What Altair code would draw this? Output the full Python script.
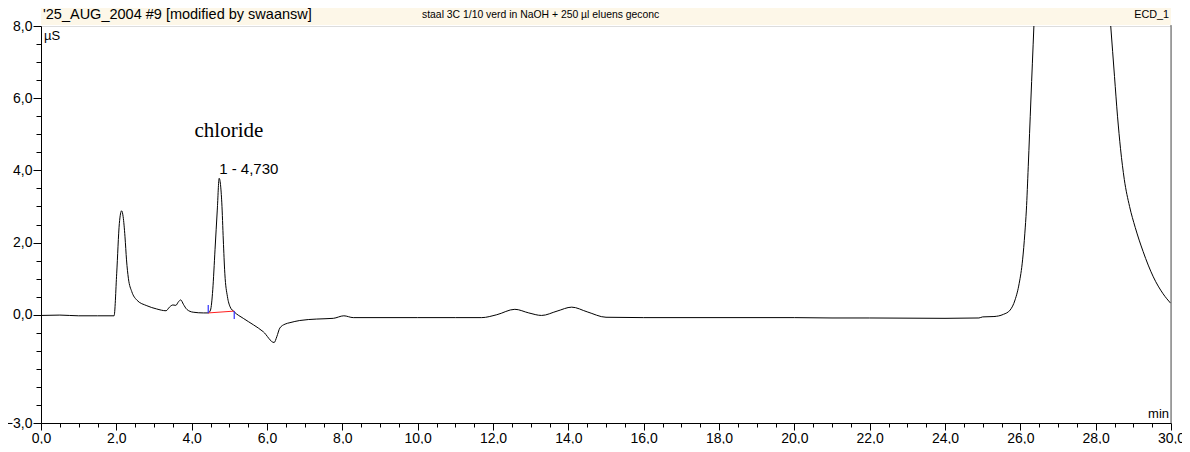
import altair as alt
import pandas as pd

# chromatogram trace (time in min, signal in µS)
time_min = [0.0, 0.5, 1.0, 1.5, 1.94, 2.01, 2.08, 2.14, 2.18, 2.23, 2.27, 2.32, 2.41, 2.54,
            2.81, 3.07, 3.32, 3.41, 3.50, 3.58, 3.65, 3.71, 3.78, 3.87, 4.04, 4.31, 4.44,
            4.50, 4.56, 4.62, 4.68, 4.73, 4.80, 4.84, 4.88, 4.95, 5.02, 5.13, 5.37, 5.64,
            5.90, 6.19, 6.26, 6.34, 6.48, 6.61, 6.87, 7.32, 7.76, 8.04, 8.29, 9.0, 10.0,
            11.0, 11.7, 12.1, 12.58, 12.95, 13.29, 13.7, 14.09, 14.5, 15.0, 16.0, 18.0,
            20.0, 21.0, 22.0, 24.0, 24.9, 25.0, 25.3, 25.55, 25.73, 25.86, 25.97, 26.06,
            26.12, 26.16, 26.21, 26.28, 26.36, 26.44, 27.4, 28.3, 28.40, 28.50, 28.58,
            28.66, 28.76, 28.90, 29.05, 29.26, 29.53, 29.79, 29.99]
signal_us = [-0.02, -0.01, -0.03, -0.03, -0.03, 1.15, 2.53, 2.88, 2.72, 2.16, 1.52, 1.01, 0.64, 0.41,
             0.25, 0.16, 0.11, 0.21, 0.27, 0.26, 0.36, 0.41, 0.29, 0.15, 0.07, 0.05, 0.05,
             0.13, 0.69, 1.80, 2.90, 3.78, 3.10, 2.07, 1.15, 0.50, 0.22, 0.08, -0.10, -0.28,
             -0.47, -0.77, -0.61, -0.37, -0.26, -0.22, -0.16, -0.12, -0.10, -0.03, -0.08, -0.08, -0.08,
             -0.08, -0.08, 0.0, 0.15, 0.05, -0.02, 0.10, 0.21, 0.08, -0.07, -0.08, -0.08,
             -0.08, -0.09, -0.09, -0.10, -0.09, -0.06, -0.05, 0.01, 0.13, 0.41, 0.87, 1.52,
             2.26, 2.90, 4.10, 5.95, 8.0, 10.2, 20.0, 9.4, 8.0, 6.6, 5.5,
             4.6, 3.75, 3.0, 2.42, 1.75, 1.05, 0.58, 0.32]

# integration baseline of peak 1 and its delimiters
base_t = [4.44, 5.13]
base_y = [0.05, 0.10]
delim_t = [4.44, 5.13]
delim_y1 = [0.05, 0.10]
delim_y2 = [0.27, -0.12]

# annotations
peak_name = ["chloride"]
peak_name_t = [4.99]
peak_name_y = [5.09]
peak_label = ["1 - 4,730"]
peak_label_t = [4.73]
peak_label_y = [4.04]

header_left = "'25_AUG_2004 #9 [modified by swaansw]"
header_center = "staal 3C 1/10 verd in NaOH + 250 µl eluens geconc"
header_right = "ECD_1"
y_unit = "µS"
x_unit = "min"

x_ticks = [i * 0.5 for i in range(61)]
y_ticks = [-3 + i * 0.5 for i in range(23)]
y_major = [8, 6, 4, 2, 0, -3]

W, H = 1130, 397
FONT = "Liberation Sans"

xs = alt.Scale(domain=[0, 30], nice=False, zero=False)
ys = alt.Scale(domain=[-3, 8], nice=False, zero=False)

trace = pd.DataFrame({"t": time_min, "s": signal_us})
base = pd.DataFrame({"t": base_t, "s": base_y})
delim = pd.DataFrame({"t": delim_t, "y1": delim_y1, "y2": delim_y2})
names = pd.DataFrame({"t": peak_name_t, "s": peak_name_y, "txt": peak_name})
labels = pd.DataFrame({"t": peak_label_t, "s": peak_label_y, "txt": peak_label})

major_y_test = "indexof([8,6,4,2,0,-3], datum.value) >= 0"
x_axis = alt.Axis(
    values=x_ticks, tickCount=500, title=None, grid=False,
    labelExpr="datum.value % 2 == 0 ? replace(format(datum.value, '.1f'), '.', ',') : ''",
    tickSize={"condition": {"test": "datum.value % 2 == 0", "value": 7}, "value": 4},
    labelFontSize=14, labelFont=FONT, labelColor="black", labelPadding=1,
    labelFlush=False, labelOverlap=False, labelBound=False,
    domainColor="black", tickColor="black",
)
y_axis = alt.Axis(
    values=y_ticks, tickCount=500, title=None, grid=False,
    labelExpr=major_y_test + " ? replace(format(datum.value, '.1f'), '.', ',') : ''",
    tickSize={"condition": {"test": major_y_test, "value": 8}, "value": 5},
    labelFontSize=14, labelFont=FONT, labelColor="black", labelPadding=1,
    labelFlush=False, labelOverlap=False, labelBound=False,
    domainColor="black", tickColor="black",
)

one = pd.DataFrame({"a": [0]})

band = alt.Chart(one).mark_rect(color="#FDF7E8").encode(
    x=alt.value(0), x2=alt.value(W), y=alt.value(-22), y2=alt.value(-1)
)

line = alt.Chart(trace).mark_line(
    color="black", strokeWidth=1, clip=True, interpolate="monotone"
).encode(
    x=alt.X("t:Q", scale=xs, axis=x_axis),
    y=alt.Y("s:Q", scale=ys, axis=y_axis),
)

base_line = alt.Chart(base).mark_line(color="#FF2020", strokeWidth=1).encode(
    x=alt.X("t:Q", scale=xs), y=alt.Y("s:Q", scale=ys)
)
delim_rule = alt.Chart(delim).mark_rule(color="#3030FF", strokeWidth=1.2).encode(
    x=alt.X("t:Q", scale=xs), y=alt.Y("y1:Q", scale=ys), y2="y2:Q"
)

name_text = alt.Chart(names).mark_text(
    font="Liberation Serif", fontSize=21, color="black", align="center", baseline="middle"
).encode(x=alt.X("t:Q", scale=xs), y=alt.Y("s:Q", scale=ys), text="txt:N")

label_text = alt.Chart(labels).mark_text(
    font=FONT, fontSize=15, color="black", align="left", baseline="middle"
).encode(x=alt.X("t:Q", scale=xs), y=alt.Y("s:Q", scale=ys), text="txt:N")


def ptext(txt, x, y, align, size=12, font=FONT):
    return alt.Chart(one).mark_text(
        text=txt, font=font, fontSize=size, color="black", align=align, baseline="middle"
    ).encode(x=alt.value(x), y=alt.value(y))


hdr_l = ptext(header_left, 2, -11, "left", 14.5)
hdr_c = ptext(header_center, 381, -11, "left", 10.4)
hdr_r = ptext(header_right, 1128, -11, "right", 10.8)
unit_y = ptext(y_unit, 3, 10, "left", 13)
unit_x = ptext(x_unit, 1128, 388, "right", 13)

right_border = alt.Chart(one).mark_rule(color="#555555", strokeWidth=1).encode(
    x=alt.value(W), y=alt.value(-1), y2=alt.value(H)
)

chart = alt.layer(
    band, line, base_line, delim_rule, name_text, label_text,
    hdr_l, hdr_c, hdr_r, unit_y, unit_x, right_border
).properties(
    width=W, height=H,
    autosize=alt.AutoSizeParams(type="none"),
    padding={"left": 33, "top": 18, "right": 11, "bottom": 21},
).configure_view(stroke=None).configure(background="white")

chart.save("out.html", embed_options={"renderer": "svg", "actions": False})
